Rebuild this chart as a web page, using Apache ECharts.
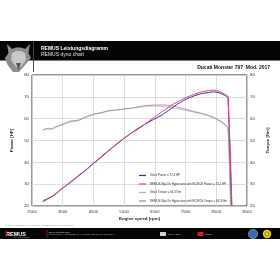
<!DOCTYPE html>
<html><head><meta charset="utf-8">
<script src="https://cdn.jsdelivr.net/npm/echarts@6/dist/echarts.min.js"></script>
<style>html,body{margin:0;padding:0;background:#fff}#c{width:280px;height:280px}</style>
</head><body><div id="c"></div>
<script>
// ---- data ----
var xTicks = [2500, 3500, 4500, 5500, 6500, 7500, 8500, 9500];
var yTicks = [20, 30, 40, 50, 60, 70, 80];
var seriesNames = [
  'Stock Power = 72,3 HP',
  'REMUS Slip-On Hypercone with EC/ECE Power = 73,1 HP',
  'Stock Torque = 66,3 Nm',
  'REMUS Slip-On Hypercone with EC/ECE Torque = 66,3 Nm'
];
var rpmStockPower = [2850,3000,3250,3500,3750,4000,4250,4500,4750,5000,5250,5500,5750,6000,6250,6500,6750,7000,7250,7500,7750,8000,8250,8400,8600,8800,8880,9000];
var stockPower    = [22.3,23.3,25.2,28.2,30.8,33.6,36.4,39.4,42.3,45.3,48.2,51.0,53.6,56.0,58.0,60.0,61.9,64.3,66.8,68.8,70.3,71.4,72.0,72.3,71.8,70.5,69.5,20.3];
var rpmRemusPower = [2850,3000,3250,3500,3750,4000,4250,4500,4750,5000,5250,5500,5750,6000,6250,6500,6750,7000,7250,7500,7750,8000,8250,8400,8600,8800,8880,9010];
var remusPower    = [22.0,23.0,25.4,28.3,31.0,33.8,36.6,39.6,42.6,45.5,48.4,51.1,53.5,55.6,58.3,60.9,63.3,65.8,67.8,69.6,71.0,72.2,72.9,73.1,72.4,71.0,70.2,20.3];
var rpmStockTorque = [2850,3000,3100,3250,3500,3750,4000,4250,4500,4750,5000,5250,5500,5750,6000,6250,6500,6750,7000,7250,7500,7750,8000,8250,8500,8750,8880,8960];
var stockTorque    = [55.0,55.3,54.9,55.8,57.6,58.5,59.4,60.5,61.8,62.8,63.4,63.9,64.3,64.7,65.3,65.7,65.8,65.6,65.1,64.5,63.8,63.1,62.3,61.3,59.8,57.5,55.5,20.3];
var rpmRemusTorque = [2850,3000,3150,3250,3500,3750,4000,4250,4500,4750,5000,5250,5500,5750,6000,6250,6500,6750,7000,7250,7500,7750,8000,8250,8500,8750,8880,8970];
var remusTorque    = [54.6,55.6,55.5,56.2,57.2,58.9,59.1,60.9,62.1,62.6,63.7,64.0,64.5,64.9,65.5,66.0,66.2,66.3,66.0,65.3,64.3,63.4,62.5,61.5,60.0,57.8,55.8,20.3];

function pairs(xs, ys){ return xs.map(function(x,i){ return [x, ys[i]]; }); }

var chart = echarts.init(document.getElementById('c'), null, {renderer:'canvas'});
var F = 'Liberation Sans, Arial, sans-serif';
var colors = ['#2e3192', '#e6417f', '#b0b0b0', '#a07fa3'];

function mkSeries(i, xs, ys, yIdx, w){
  return {
    name: seriesNames[i], type: 'line', yAxisIndex: yIdx, data: pairs(xs, ys),
    showSymbol: false, symbol: 'none', smooth: 0.2, z: 5 - (i < 2 ? 0 : 1),
    lineStyle: {color: colors[i], width: w}, itemStyle: {color: colors[i]}
  };
}
function plain(v){ return String(v); }

var option = {
  animation: false,
  textStyle: {fontFamily: F},
  grid: {left: 32, right: 33, top: 75, bottom: 74, show: true, borderColor: '#333', borderWidth: 1, backgroundColor: '#fff'},
  legend: {
    orient: 'vertical', left: 139, top: 173.5, itemWidth: 7, itemHeight: 1.2, icon: 'rect',
    itemGap: 4.5, padding: 0, selectedMode: false,
    textStyle: {fontSize: 2.9, color: '#333', fontFamily: F, lineHeight: 4, padding: [0,0,0,-1]},
    data: seriesNames
  },
  xAxis: {
    type: 'value', min: 2500, max: 9500, interval: 500,
    name: 'Engine speed [rpm]', nameLocation: 'middle', nameGap: 11,
    nameTextStyle: {fontSize: 4.4, fontWeight: 'bold', color: '#222'},
    axisLine: {show: false}, axisTick: {show: false, customValues: xTicks},
    axisLabel: {customValues: xTicks, formatter: plain, fontSize: 4.3, color: '#333', margin: 4},
    splitLine: {show: true, lineStyle: {color: '#d6d6d6', width: 0.8}}
  },
  yAxis: [{
    type: 'value', min: 20, max: 80, interval: 10,
    name: 'Power [HP]', nameLocation: 'middle', nameGap: 14,
    nameTextStyle: {fontSize: 4.4, fontWeight: 'bold', color: '#222'},
    axisLine: {show: false}, axisTick: {show: false},
    axisLabel: {formatter: plain, fontSize: 4.3, color: '#333', margin: 3},
    splitLine: {show: true, lineStyle: {color: '#d6d6d6', width: 0.8}}
  }, {
    type: 'value', min: 20, max: 80, interval: 10, position: 'right',
    name: 'Torque [Nm]', nameLocation: 'middle', nameGap: 13,
    nameTextStyle: {fontSize: 4.4, fontWeight: 'bold', color: '#222'},
    axisLine: {show: false}, axisTick: {show: false},
    axisLabel: {formatter: plain, fontSize: 4.3, color: '#333', margin: 3},
    splitLine: {show: false}
  }],
  series: [
    mkSeries(2, rpmStockTorque, stockTorque, 1, 0.8),
    mkSeries(3, rpmRemusTorque, remusTorque, 1, 0.8),
    mkSeries(0, rpmStockPower, stockPower, 0, 1.0),
    mkSeries(1, rpmRemusPower, remusPower, 0, 1.0)
  ],
  graphic: [
    {type: 'rect', shape: {x: 0, y: 41, width: 280, height: 19}, style: {fill: '#050505'}, z: 10},
    {type: 'rect', shape: {x: 0, y: 60, width: 280, height: 0.8}, style: {fill: '#555'}, z: 10},
    {type: 'polygon', shape: {points: [[7,44],[12,49],[16,47.5],[21,47.5],[25,49],[30,44],[28.5,53],[31,58],[26,64],[19,72],[13,72],[7,64],[5,58],[8.5,53]]},
      style: {fill: '#8d8d8d'}, z: 11},
    {type: 'polygon', shape: {points: [[12,53],[16,51],[21,51],[25,53],[26,60],[21,67],[16,67],[11,60]]},
      style: {fill: '#c8c8c8'}, z: 11},
    {type: 'polygon', shape: {points: [[16,63],[21,63],[18.5,70]]}, style: {fill: '#555'}, z: 12},
    {type: 'line', shape: {x1: 33.5, y1: 41, x2: 33.5, y2: 72}, style: {stroke: '#b3141c', lineWidth: 1}, z: 12},
    {type: 'text', x: 41, y: 46.5, style: {text: 'REMUS Leistungsdiagramm', font: 'bold 5px ' + F, fill: '#fff'}, z: 12},
    {type: 'text', x: 41, y: 52.5, style: {text: 'REMUS dyno chart', font: '5px ' + F, fill: '#e0e0e0'}, z: 12},
    {type: 'text', x: 270, y: 65.5, style: {text: 'Ducati Monster 797  Mod. 2017', font: 'bold 5px ' + F, fill: '#111', align: 'right'}, z: 12},
    {type: 'text', x: 5, y: 224.5, style: {text: 'Verified on REMUS dyno test bench · Technical data subject to change', font: '2.2px ' + F, fill: '#888'}, z: 12},
    {type: 'rect', shape: {x: 0, y: 228, width: 280, height: 11}, style: {fill: '#050505'}, z: 10},
    {type: 'text', x: 6, y: 231, style: {text: 'REMUS', font: 'bold 5.5px ' + F, fill: '#fff'}, z: 12},
    {type: 'rect', shape: {x: 5.5, y: 231.3, width: 1.5, height: 4}, style: {fill: '#d21f26'}, z: 13},
    {type: 'text', x: 14, y: 236.5, style: {text: 'EXHAUST SYSTEMS', font: '1.6px ' + F, fill: '#aaa'}, z: 12},
    {type: 'line', shape: {x1: 47, y1: 230, x2: 47, y2: 238}, style: {stroke: '#b3141c', lineWidth: 0.8}, z: 12},
    {type: 'text', x: 49, y: 231.5, style: {text: 'REMUS Innovation GmbH', font: '1.8px ' + F, fill: '#ddd'}, z: 12},
    {type: 'text', x: 49, y: 234, style: {text: 'Am Gewerbepark 3, A-8580 Bärnbach, Tel. +43 3142 6060, office@remus.at, www.remus.eu', font: '1.6px ' + F, fill: '#bbb'}, z: 12},
    {type: 'rect', shape: {x: 160, y: 232, width: 6, height: 4}, style: {fill: '#cfcfd6'}, z: 12},
    {type: 'text', x: 168, y: 233.2, style: {text: 'Made in Austria', font: '1.8px ' + F, fill: '#ccc'}, z: 12},
    {type: 'rect', shape: {x: 197.5, y: 232, width: 6, height: 4}, style: {fill: '#d21f26'}, z: 12},
    {type: 'text', x: 205, y: 233.2, style: {text: 'EC/ECE', font: '1.8px ' + F, fill: '#ccc'}, z: 12},
    {type: 'circle', shape: {cx: 253, cy: 234, r: 4.6}, style: {fill: '#3b6db3', stroke: '#9db7dd', lineWidth: 0.6}, z: 12},
    {type: 'circle', shape: {cx: 267, cy: 234, r: 4.2}, style: {fill: '#f1d300'}, z: 12},
    {type: 'circle', shape: {cx: 267, cy: 234, r: 2.2}, style: {fill: 'none', stroke: '#333', lineWidth: 0.5}, z: 13}
  ]
};
chart.setOption(option);
</script></body></html>
